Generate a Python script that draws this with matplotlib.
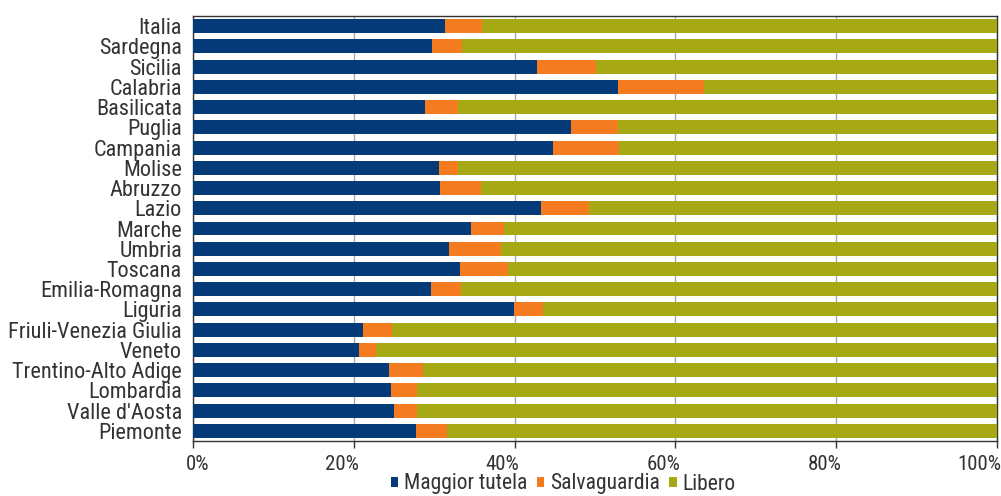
import matplotlib
matplotlib.use("Agg")
import matplotlib.pyplot as plt
import matplotlib.transforms as mtransforms
from matplotlib.ticker import FuncFormatter
import numpy as np

regions = ["Italia", "Sardegna", "Sicilia", "Calabria", "Basilicata", "Puglia",
           "Campania", "Molise", "Abruzzo", "Lazio", "Marche", "Umbria",
           "Toscana", "Emilia-Romagna", "Liguria", "Friuli-Venezia Giulia",
           "Veneto", "Trentino-Alto Adige", "Lombardia", "Valle d'Aosta", "Piemonte"]
maggior_tutela = [31.3, 29.7, 42.8, 52.9, 28.9, 47.0, 44.8, 30.6, 30.7, 43.3, 34.6,
                  31.8, 33.2, 29.6, 39.9, 21.2, 20.6, 24.4, 24.6, 25.0, 27.7]
salvaguardia = [4.6, 3.8, 7.3, 10.6, 4.0, 5.8, 8.2, 2.3, 5.1, 5.9, 4.1,
                6.5, 6.0, 3.7, 3.6, 3.6, 2.2, 4.2, 3.2, 2.8, 3.9]
libero = [100 - a - b for a, b in zip(maggior_tutela, salvaguardia)]

series_names = ["Maggior tutela", "Salvaguardia", "Libero"]
colors = ["#033A77", "#F47B20", "#A6A913"]
x_ticks = [0, 20, 40, 60, 80, 100]

plt.rcParams['font.family'] = ['Roboto Condensed', 'Lato', 'DejaVu Sans']
text_color = "#333333"
fs_y = 16
fs_x = 15
fs_leg = 15.5

fig = plt.figure(figsize=(10.01, 4.96), dpi=100)
ax = fig.add_axes([193 / 1001, 1 - 441 / 496, (997 - 193) / 1001, (441 - 16) / 496])

y = np.arange(len(regions))
h = 0.69
left = np.zeros(len(regions))
for name, vals, c in zip(series_names, [maggior_tutela, salvaguardia, libero], colors):
    ax.barh(y, vals, left=left, height=h, color=c, label=name, zorder=3)
    left += np.array(vals)

ax.set_xlim(0, 100)
ax.set_ylim(len(regions) - 0.5, -0.5)
ax.set_yticks(y)
ax.set_yticklabels(regions)
ax.set_xticks(x_ticks)
ax.xaxis.set_major_formatter(FuncFormatter(lambda v, p: f"{int(v)}%"))
ax.tick_params(axis='y', length=0, pad=8, labelsize=fs_y, labelcolor=text_color)
ax.tick_params(axis='x', length=5, width=1, color="#333333", pad=5, labelsize=fs_x,
               labelcolor=text_color)
ax.grid(axis='x', color="#AAAAAA", linewidth=1, zorder=0)
for s in ax.spines.values():
    s.set_color("#333333")
    s.set_linewidth(1)

# nudge the percentage labels the way the original layout places them
shifts_px = {0: 5, 100: -18}
for tick_val, lbl in zip(x_ticks, ax.get_xticklabels()):
    dx = shifts_px.get(tick_val, -12)
    lbl.set_transform(lbl.get_transform() +
                      mtransforms.ScaledTranslation(dx / 100, 0, fig.dpi_scale_trans))

handles, labels = ax.get_legend_handles_labels()
fig.legend(handles, labels, loc='center', bbox_to_anchor=(563 / 1001, 1 - 484 / 496),
           ncol=3, frameon=False, fontsize=fs_leg, handlelength=0.35, handleheight=0.35,
           handletextpad=0.25, columnspacing=0.45, labelcolor=text_color)

fig.savefig("out.png", dpi=100)
